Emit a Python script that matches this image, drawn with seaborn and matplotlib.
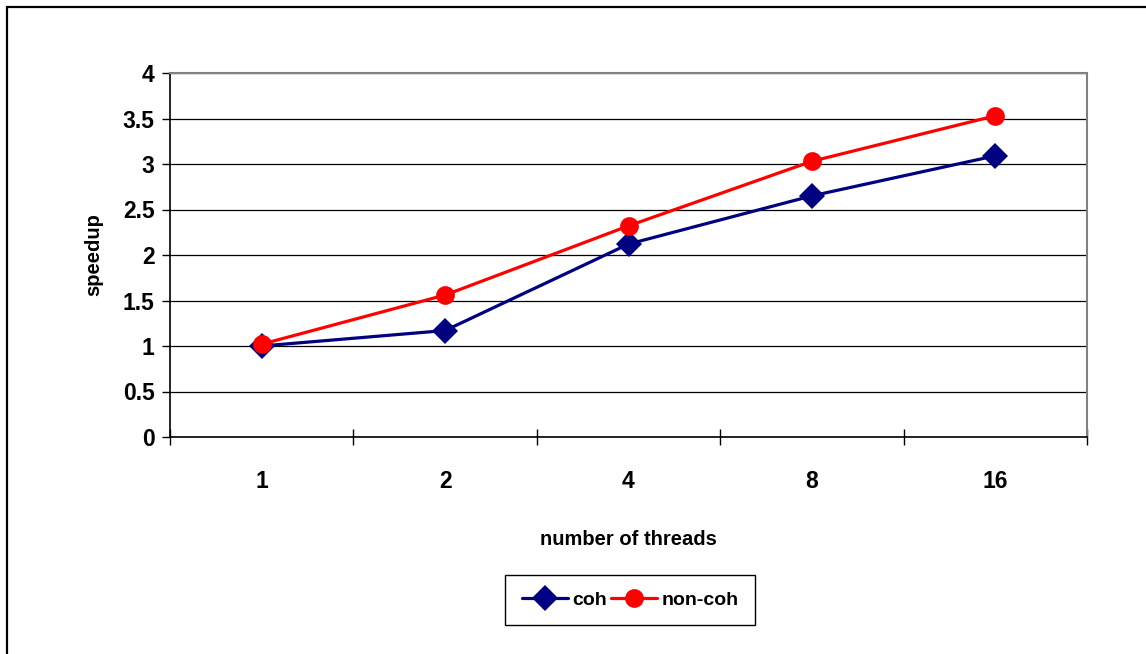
import matplotlib
matplotlib.use("Agg")
import matplotlib.pyplot as plt
from matplotlib.patches import Rectangle
from matplotlib.ticker import FixedLocator, MultipleLocator
import seaborn as sns
import pandas as pd

# ---- data ----
threads = ["1", "2", "4", "8", "16"]
coh = [1.00, 1.17, 2.12, 2.65, 3.09]
non_coh = [1.02, 1.56, 2.32, 3.03, 3.53]
series_names = ["coh", "non-coh"]
y_ticks = [0, 0.5, 1, 1.5, 2, 2.5, 3, 3.5, 4]

df = pd.DataFrame({
    "threads": threads * 2,
    "speedup": coh + non_coh,
    "series": [series_names[0]] * len(threads) + [series_names[1]] * len(threads),
})

sns.set_style("white")
plt.rcParams["font.family"] = ["Liberation Sans", "DejaVu Sans"]
plt.rcParams["font.weight"] = "bold"
for k in ["text.color", "axes.labelcolor", "xtick.color", "ytick.color"]:
    plt.rcParams[k] = "black"

fig = plt.figure(figsize=(11.46, 6.54), dpi=100)
ax = fig.add_axes([170 / 1146, 1 - 437 / 654, 917 / 1146, 364 / 654])

palette = {"coh": "#000080", "non-coh": "#FF0000"}
sns.pointplot(data=df, x="threads", y="speedup", hue="series",
              order=threads, hue_order=series_names, palette=palette,
              markers=["D", "o"], linestyles=["-", "-"], errorbar=None,
              dodge=False, ax=ax, legend=False)

msizes = {"coh": 13.5, "non-coh": 13.5}
lines = [l for l in ax.lines if len(l.get_xdata()) == len(threads)]
for line, name in zip(lines, series_names):
    line.set_linewidth(2.3)
    line.set_markersize(msizes[name])
    line.set_markeredgewidth(0)
    line.set_label(name)

ax.set_xlim(-0.5, len(threads) - 0.5)
ax.set_ylim(0, 4)
ax.yaxis.set_major_locator(FixedLocator(y_ticks))
ax.set_yticklabels([("%g" % v) for v in y_ticks], fontsize=16.5, fontweight="bold")
ax.set_xticks(range(len(threads)))
ax.set_xticklabels(threads, fontsize=16.5, fontweight="bold")
ax.xaxis.set_minor_locator(MultipleLocator(1, offset=0.5))
ax.tick_params(axis="x", which="major", length=0, pad=24)
ax.tick_params(axis="x", which="minor", direction="inout", length=12, width=1, color="black", bottom=True)
ax.tick_params(axis="y", which="major", direction="out", length=6, width=1, color="black", pad=5, left=True)

ax.yaxis.grid(True, color="black", linewidth=0.9)
ax.xaxis.grid(False)
for s in ["left", "bottom"]:
    ax.spines[s].set_color("black")
    ax.spines[s].set_linewidth(1.2)
for s in ["top", "right"]:
    ax.spines[s].set_color("#808080")
    ax.spines[s].set_linewidth(1.5)

ax.set_xlabel("number of threads", fontsize=14.5, fontweight="bold")
ax.set_ylabel("speedup", fontsize=14.5, fontweight="bold")
ax.xaxis.set_label_coords(0.5, -0.2555)
ax.yaxis.set_label_coords(-0.073, 0.5)

leg = fig.legend(handles=lines, labels=series_names, loc="center",
                 bbox_to_anchor=(630 / 1146, 1 - 600 / 654), ncol=2,
                 frameon=True, fancybox=False, framealpha=1, edgecolor="black",
                 prop={"size": 14, "weight": "bold"}, handlelength=2.4,
                 handletextpad=0.2, columnspacing=0.2, borderpad=0.85,
                 borderaxespad=0)
leg.get_frame().set_linewidth(1.0)

# outer chart frame
fig.add_artist(Rectangle((7 / 1146, -0.1), 2.0, 1 - 7 / 654 + 0.1,
                         transform=fig.transFigure, fill=False,
                         edgecolor="black", linewidth=1.6, clip_on=False))

fig.savefig("out.png", dpi=100)
